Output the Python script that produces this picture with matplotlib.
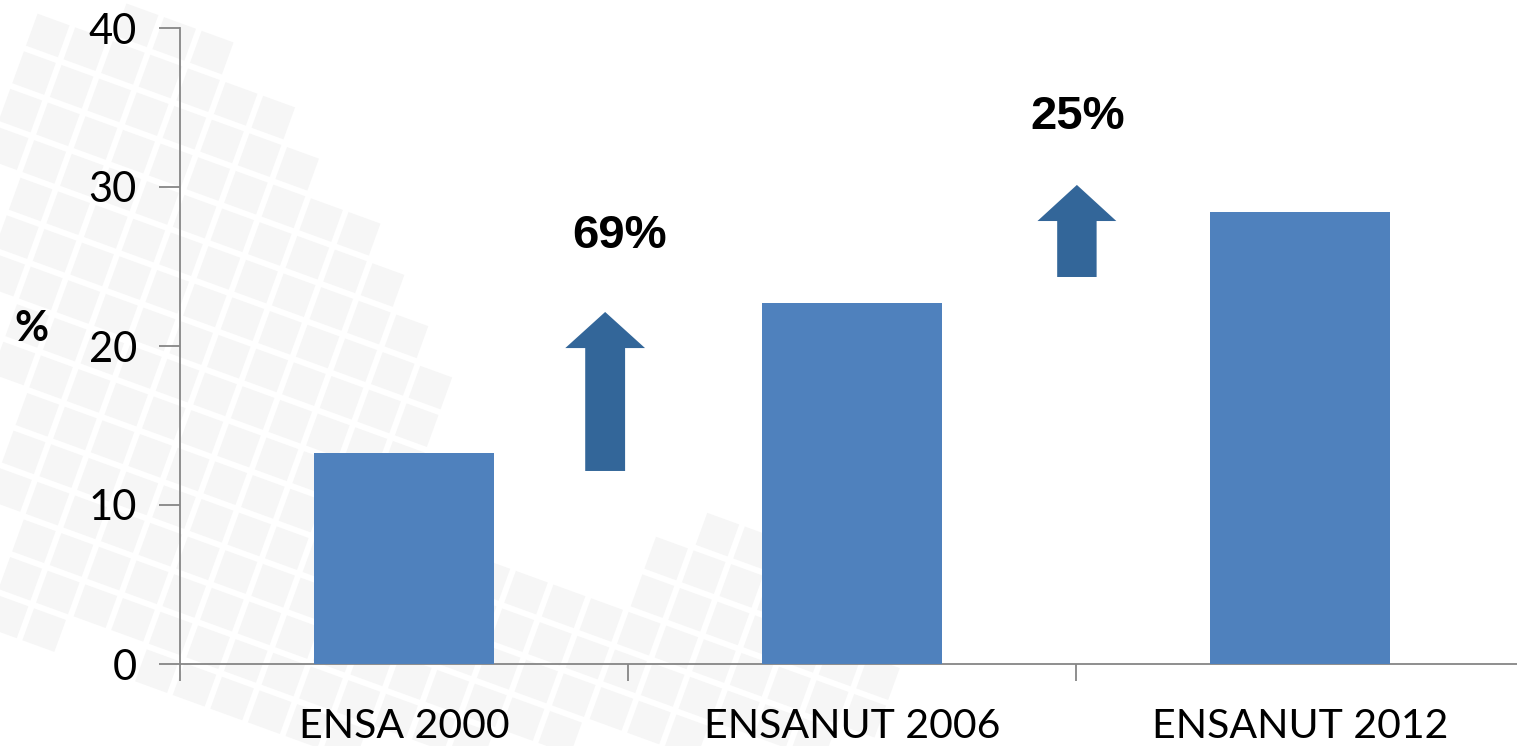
import numpy as np
import matplotlib
matplotlib.use("Agg")
import matplotlib.pyplot as plt
from matplotlib.patches import Polygon, FancyArrow
from matplotlib.path import Path

categories = ["ENSA 2000", "ENSANUT 2006", "ENSANUT 2012"]
values = [13.3, 22.7, 28.4]
yticks = [0, 10, 20, 30, 40]
change_labels = ["69%", "25%"]

W, H = 1517, 746
fig = plt.figure(figsize=(W / 100, H / 100), dpi=100)
fig.patch.set_facecolor("white")

# decorative background: tilted light-grey squares (image pixel coords)
regions = [
    Path([(0, 40), (130, 10), (200, 40), (320, 160), (445, 380), (430, 470),
          (330, 560), (170, 660), (0, 620)]),
    Path([(30, 520), (250, 610), (480, 560), (620, 590), (700, 510), (780, 515),
          (880, 600), (900, 746), (250, 746), (30, 590)]),
]

def bg_squares(size=34, gap=6, ang_deg=20):
    ang = np.deg2rad(ang_deg)
    step = size + gap
    ca, sa = np.cos(ang), np.sin(ang)
    for i in range(-15, 40):
        for j in range(-25, 30):
            u, v = i * step, j * step
            x = u * ca - v * sa
            y = u * sa + v * ca
            cxs = x + (size / 2) * ca - (size / 2) * sa
            cys = y + (size / 2) * sa + (size / 2) * ca
            if not any(r.contains_point((cxs, cys)) for r in regions):
                continue
            pts = []
            for du, dv in [(0, 0), (size, 0), (size, size), (0, size)]:
                px = x + du * ca - dv * sa
                py = y + du * sa + dv * ca
                pts.append((px / W, 1 - py / H))
            fig.patches.append(Polygon(pts, closed=True, transform=fig.transFigure,
                                       facecolor="#f6f6f6", edgecolor="none", zorder=-1))

bg_squares()

ax = fig.add_axes([180 / W, 1 - 664 / H, 1344 / W, 636 / H])
ax.set_zorder(1)
ax.set_facecolor("none")
x = np.arange(len(categories))
ax.bar(x, values, width=0.4, color="#4F81BD", zorder=3)

ax.set_xlim(-0.5, len(categories) - 0.5)
ax.set_ylim(0, 40)
ax.set_yticks(yticks)
ax.set_yticklabels([str(t) for t in yticks], fontsize=30, fontfamily="Lato")
ax.set_xticks(np.arange(-0.5, len(categories), 1.0))
ax.set_xticklabels([])
ax.set_xticks(x, minor=True)
ax.set_xticklabels(categories, minor=True, fontsize=29.5, fontfamily="Lato")
ax.tick_params(axis="x", which="minor", length=0, pad=32)
ax.tick_params(axis="x", which="major", length=12, width=1.3, color="#868686", direction="out")
ax.tick_params(axis="y", length=15, width=1.3, color="#868686", direction="out", pad=16)
for s in ["top", "right"]:
    ax.spines[s].set_visible(False)
for s in ["left", "bottom"]:
    ax.spines[s].set_color("#868686")
    ax.spines[s].set_linewidth(1.3)

ax.set_ylabel("%", rotation=0, fontsize=30, fontweight="bold", fontfamily="Lato",
              va="center", ha="center")
ax.yaxis.set_label_coords((31 - 180) / 1344, (664 - 329) / 636)

# increase arrows between surveys
arrow_specs = [
    (0.449, 12.14, 22.14 - 12.14, 0.089, 0.178, 22.14 - 19.87),
    (1.502, 24.34, 30.13 - 24.34, 0.088, 0.176, 30.13 - 27.86),
]
for (ax_x, y0, dy, sw, hw, hl) in arrow_specs:
    ax.add_patch(FancyArrow(ax_x, y0, 0, dy, width=sw, head_width=hw, head_length=hl,
                            length_includes_head=True, facecolor="#336699",
                            edgecolor="none", zorder=4))

label_pos = [(0.482, 26.9), (1.504, 34.4)]
for (tx, ty), lab in zip(label_pos, change_labels):
    ax.text(tx, ty, lab, ha="center", va="center", fontsize=34, fontweight="bold",
            fontfamily="Liberation Sans", zorder=5)

fig.savefig("out.png", dpi=100)
